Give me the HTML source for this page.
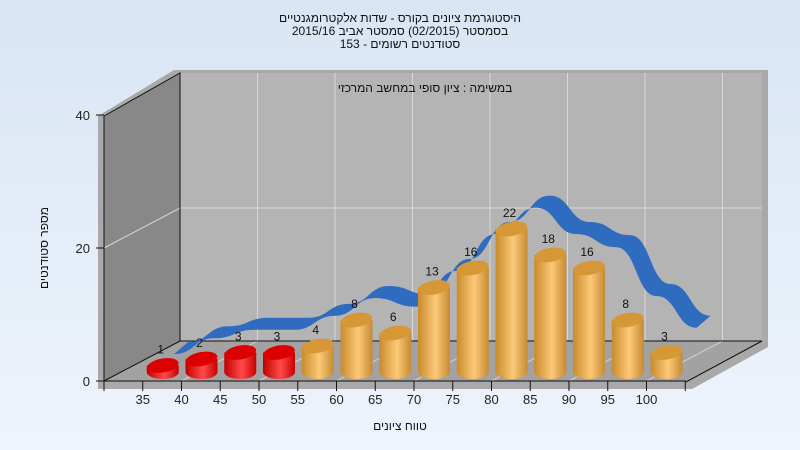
<!DOCTYPE html>
<html><head><meta charset="utf-8">
<style>
html,body{margin:0;padding:0;}
body{width:800px;height:450px;overflow:hidden;background:linear-gradient(#d9e5f4,#eef4fc);font-family:"Liberation Sans","DejaVu Sans",sans-serif;}
svg{display:block;}
svg text{font-family:"Liberation Sans","DejaVu Sans",sans-serif;}
</style></head>
<body>
<svg id="chart" width="800" height="450" xmlns="http://www.w3.org/2000/svg">
<defs>
<linearGradient id="gold" x1="0" x2="1" y1="0" y2="0">
<stop offset="0" stop-color="#c98a2c"/><stop offset="0.55" stop-color="#fcc978"/><stop offset="1" stop-color="#c78a33"/>
</linearGradient>
<linearGradient id="red" x1="0" x2="1" y1="0" y2="0">
<stop offset="0" stop-color="#c00000"/><stop offset="0.55" stop-color="#ff4a4a"/><stop offset="1" stop-color="#c80000"/>
</linearGradient>
</defs>
<g font-size="12" fill="#111" text-anchor="middle">
<text x="400" y="22" direction="rtl">היסטוגרמת ציונים בקורס - שדות אלקטרומגנטיים</text>
<text x="400" y="35" direction="rtl">בסמסטר  (02/2015)  סמסטר אביב 2015/16</text>
<text x="400" y="48" direction="rtl">סטודנטים רשומים - 153</text>
</g>
<polygon points="98,116 174,70 768,70 768,347 692,389 98,389" fill="#a9a9a9"/>
<polygon points="180,73 762,73 762,341 180,341" fill="#b4b4b4"/>
<polygon points="104,116 180,73 180,341 104,381" fill="#888"/>
<polygon points="180,341 762,341 686,382 104,382" fill="#a2a2a2"/>
<g id="grid"></g>
<polyline points="104,116 180,73 180,341 762,341 686,382" fill="none" stroke="#111" stroke-width="1"/>
<line x1="180" y1="341" x2="104" y2="381" stroke="#111"/>
<text x="425" y="92" font-size="12" fill="#111" text-anchor="middle" direction="rtl">במשימה : ציון סופי במחשב המרכזי</text>
<g id="ribbon"></g>
<g id="bars"></g>
<g id="axes"></g>
<text transform="translate(48,248) rotate(-90)" font-size="12" fill="#111" text-anchor="middle" direction="rtl">מספר סטודנטים</text>
<text x="400" y="430" font-size="12" fill="#111" text-anchor="middle" direction="rtl">טווח ציונים</text>
</svg>
<script>
const categories=[35,40,45,50,55,60,65,70,75,80,85,90,95,100];
const counts=[1,2,3,3,4,8,6,13,16,22,18,16,8,3];
const trendValues=[1.8,4.2,5.5,5.5,7.6,10.3,9,14.4,20,24,20,18,10.6,5.8];
const yTicks=[0,20,40];
const xTickLabels=[35,40,45,50,55,60,65,70,75,80,85,90,95,100];

const NS="http://www.w3.org/2000/svg";
function mk(tag,attrs,parent){const e=document.createElementNS(NS,tag);for(const k in attrs)e.setAttribute(k,attrs[k]);parent.appendChild(e);return e;}
const xFront=v=>104+(v-30)/5*38.75;
const yFront=v=>381-v*6.65;
const DX=76,DY=-40;
const barX=i=>xFront(categories[i])+20;
const barBase=372, barScale=6.5;
const yBar=v=>barBase-v*barScale;
const ribX=i=>188+i*40.2;
const yRib=v=>360-v*6.6;

const gridG=document.getElementById('grid');
categories.forEach(v=>{
  if(v%10===0){
    const x=xFront(v);
    const l=mk('line',{x1:x+DX,y1:73,x2:x+DX,y2:341,stroke:'#d8d8d8','stroke-width':1},gridG);
    
    
    const f=mk('line',{x1:x+DX,y1:341,x2:x,y2:381,stroke:'#d0d0d0','stroke-width':1},gridG);
    
    
  }
});
yTicks.forEach(t=>{
  if(t>0&&t<40){
    const y=yFront(t);
    const a=mk('polyline',{points:`104,${y} 180,${y+DY} 762,${y+DY}`,fill:'none',stroke:'#d8d8d8'},gridG);
    
    
  }
});

// ribbon
const ribG=document.getElementById('ribbon');
const ribTop=[],ribBot=[];
trendValues.forEach((v,i)=>{ribTop.push([ribX(i),yRib(v)-6]);ribBot.push([ribX(i)-14,yRib(v)+6]);});
function curveSeg(pts){let s='';for(let i=1;i<pts.length;i++){const p0=pts[i-1],p1=pts[i];const mx=(p0[0]+p1[0])/2;s+=` C${mx},${p0[1]} ${mx},${p1[1]} ${p1[0]},${p1[1]}`;}return s;}
const ribBotRev=ribBot.slice().reverse();
const ribD=`M${ribTop[0][0]},${ribTop[0][1]}`+curveSeg(ribTop)+` L${ribBotRev[0][0]},${ribBotRev[0][1]}`+curveSeg(ribBotRev)+' Z';
const rp=mk('path',{d:ribD,fill:'#2f6bbf'},ribG);



// bars
const barsG=document.getElementById('bars');
counts.forEach((v,i)=>{
  const cx=barX(i),rx=16,ry=7,yt=yBar(v),yb=barBase;
  const isRed=i<4;
  const g=mk('g',{},barsG);
  
  
  mk('path',{d:`M${cx-rx},${yt} L${cx-rx},${yb} A${rx},${ry} 0 0 0 ${cx+rx},${yb} L${cx+rx},${yt} Z`,fill:isRed?'url(#red)':'url(#gold)'},g);
  mk('ellipse',{cx:cx,cy:yt,rx:rx,ry:ry,fill:isRed?'#dd0000':'#d69736',transform:`rotate(-10 ${cx} ${yt})`},g);
  const t=mk('text',{x:cx-2,y:yt-12,'font-size':12,fill:'#111','text-anchor':'middle'},g);
  t.textContent=v;
  
  
});

// axes
const axG=document.getElementById('axes');
const yl=mk('line',{x1:104,y1:116,x2:104,y2:381,stroke:'#111'},axG);


const xl=mk('line',{x1:104,y1:381,x2:686,y2:381,stroke:'#111'},axG);


yTicks.forEach(t=>{
  const y=yFront(t);
  mk('line',{x1:96,y1:y,x2:104,y2:y,stroke:'#111'},axG);
  const tx=mk('text',{x:90,y:y+5,'font-size':13,fill:'#222','text-anchor':'end'},axG);
  tx.textContent=t;
  
  
});
[30].concat(xTickLabels).concat([105]).forEach(v=>{
  const x=xFront(v);
  mk('line',{x1:x,y1:381,x2:x,y2:391,stroke:'#111'},axG);
});
xTickLabels.forEach(v=>{
  const tx=mk('text',{x:xFront(v),y:404,'font-size':13,fill:'#222','text-anchor':'middle'},axG);
  tx.textContent=v;
  
  
});
</script>
</body></html>
